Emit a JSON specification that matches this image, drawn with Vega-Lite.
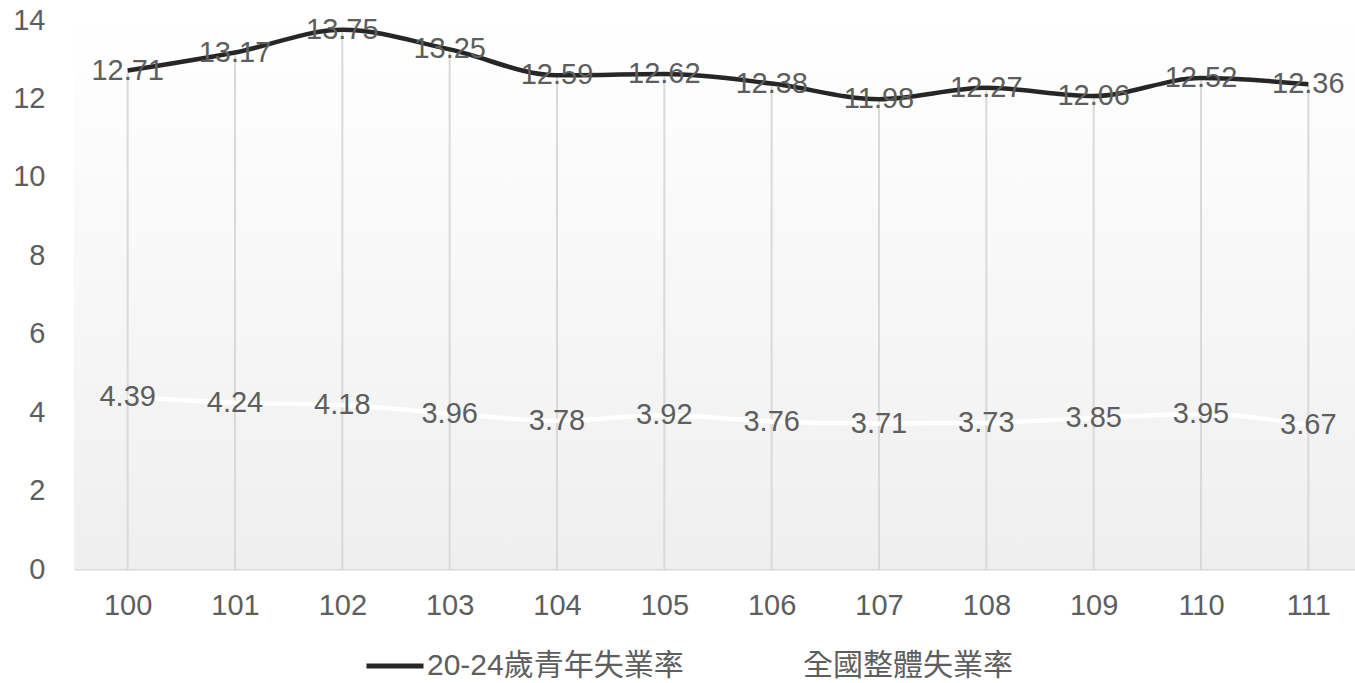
{
  "$schema": "https://vega.github.io/schema/vega-lite/v6.json",
  "width": 1288,
  "height": 549,
  "autosize": {"type": "none"},
  "padding": {"left": 74, "top": 20, "right": 0, "bottom": 114},
  "background": "white",
  "config": {
    "view": {"stroke": null},
    "font": "Liberation Sans, Arial, Noto Sans CJK TC",
    "axis": {"labelFont": "Liberation Sans, Arial", "labelFontSize": 29, "labelColor": "#5e5e5e", "title": null, "ticks": false, "grid": false}
  },
  "data": {
    "values": [
      {"year": "100", "20-24歲青年失業率": 12.71, "全國整體失業率": 4.39},
      {"year": "101", "20-24歲青年失業率": 13.17, "全國整體失業率": 4.24},
      {"year": "102", "20-24歲青年失業率": 13.75, "全國整體失業率": 4.18},
      {"year": "103", "20-24歲青年失業率": 13.25, "全國整體失業率": 3.96},
      {"year": "104", "20-24歲青年失業率": 12.59, "全國整體失業率": 3.78},
      {"year": "105", "20-24歲青年失業率": 12.62, "全國整體失業率": 3.92},
      {"year": "106", "20-24歲青年失業率": 12.38, "全國整體失業率": 3.76},
      {"year": "107", "20-24歲青年失業率": 11.98, "全國整體失業率": 3.71},
      {"year": "108", "20-24歲青年失業率": 12.27, "全國整體失業率": 3.73},
      {"year": "109", "20-24歲青年失業率": 12.06, "全國整體失業率": 3.85},
      {"year": "110", "20-24歲青年失業率": 12.52, "全國整體失業率": 3.95},
      {"year": "111", "20-24歲青年失業率": 12.36, "全國整體失業率": 3.67}
    ]
  },
  "encoding": {
    "x": {"field": "year", "type": "ordinal", "scale": {"type": "point", "padding": 0.5},
          "axis": {"labelAngle": 0, "domainColor": "#d9d9d9", "domainWidth": 2, "labelPadding": 22}}
  },
  "layer": [
    {
      "mark": {"type": "rect", "fill": {"gradient": "linear", "x1": 0, "y1": 0, "x2": 0, "y2": 1, "stops": [{"offset": 0, "color": "#ffffff"}, {"offset": 1, "color": "#efefef"}]}},
      "encoding": {
        "x": {"value": 0},
        "x2": {"value": "width"},
        "y": {"value": 0},
        "y2": {"value": "height"}
      }
    },
    {
      "mark": {"type": "rule", "color": "#d9d9d9", "strokeWidth": 2},
      "encoding": {
        "y": {"field": "20-24歲青年失業率", "type": "quantitative", "scale": {"domain": [0, 14], "nice": false},
              "axis": {"values": [0, 2, 4, 6, 8, 10, 12, 14], "domain": false, "labelPadding": 29}},
        "y2": {"value": "height"}
      }
    },
    {
      "transform": [{"fold": ["20-24歲青年失業率", "全國整體失業率"], "as": ["series", "value"]}],
      "mark": {"type": "line", "strokeWidth": 4.5, "interpolate": "monotone"},
      "encoding": {
        "y": {"field": "value", "type": "quantitative"},
        "color": {"field": "series", "type": "nominal",
                  "scale": {"domain": ["20-24歲青年失業率", "全國整體失業率"], "range": ["#262626", "#ffffff"]},
                  "legend": {"title": null, "orient": "none", "legendX": 290, "legendY": 615, "direction": "horizontal",
                             "symbolType": "stroke", "symbolSize": 3249, "symbolStrokeWidth": 5,
                             "labelFont": "Liberation Sans, Noto Sans CJK TC", "labelFontSize": 30, "labelColor": "#5e5e5e",
                             "labelLimit": 0, "labelOffset": 1, "columnPadding": 48}},
        "order": {"field": "series", "sort": "descending"}
      }
    },
    {
      "transform": [{"fold": ["20-24歲青年失業率", "全國整體失業率"], "as": ["series", "value"]}],
      "mark": {"type": "text", "fontSize": 29, "color": "#5e5e5e", "align": "center", "baseline": "middle", "font": "Liberation Sans, Arial"},
      "encoding": {
        "y": {"field": "value", "type": "quantitative"},
        "text": {"field": "value", "type": "quantitative", "format": ".2f"}
      }
    }
  ]
}
